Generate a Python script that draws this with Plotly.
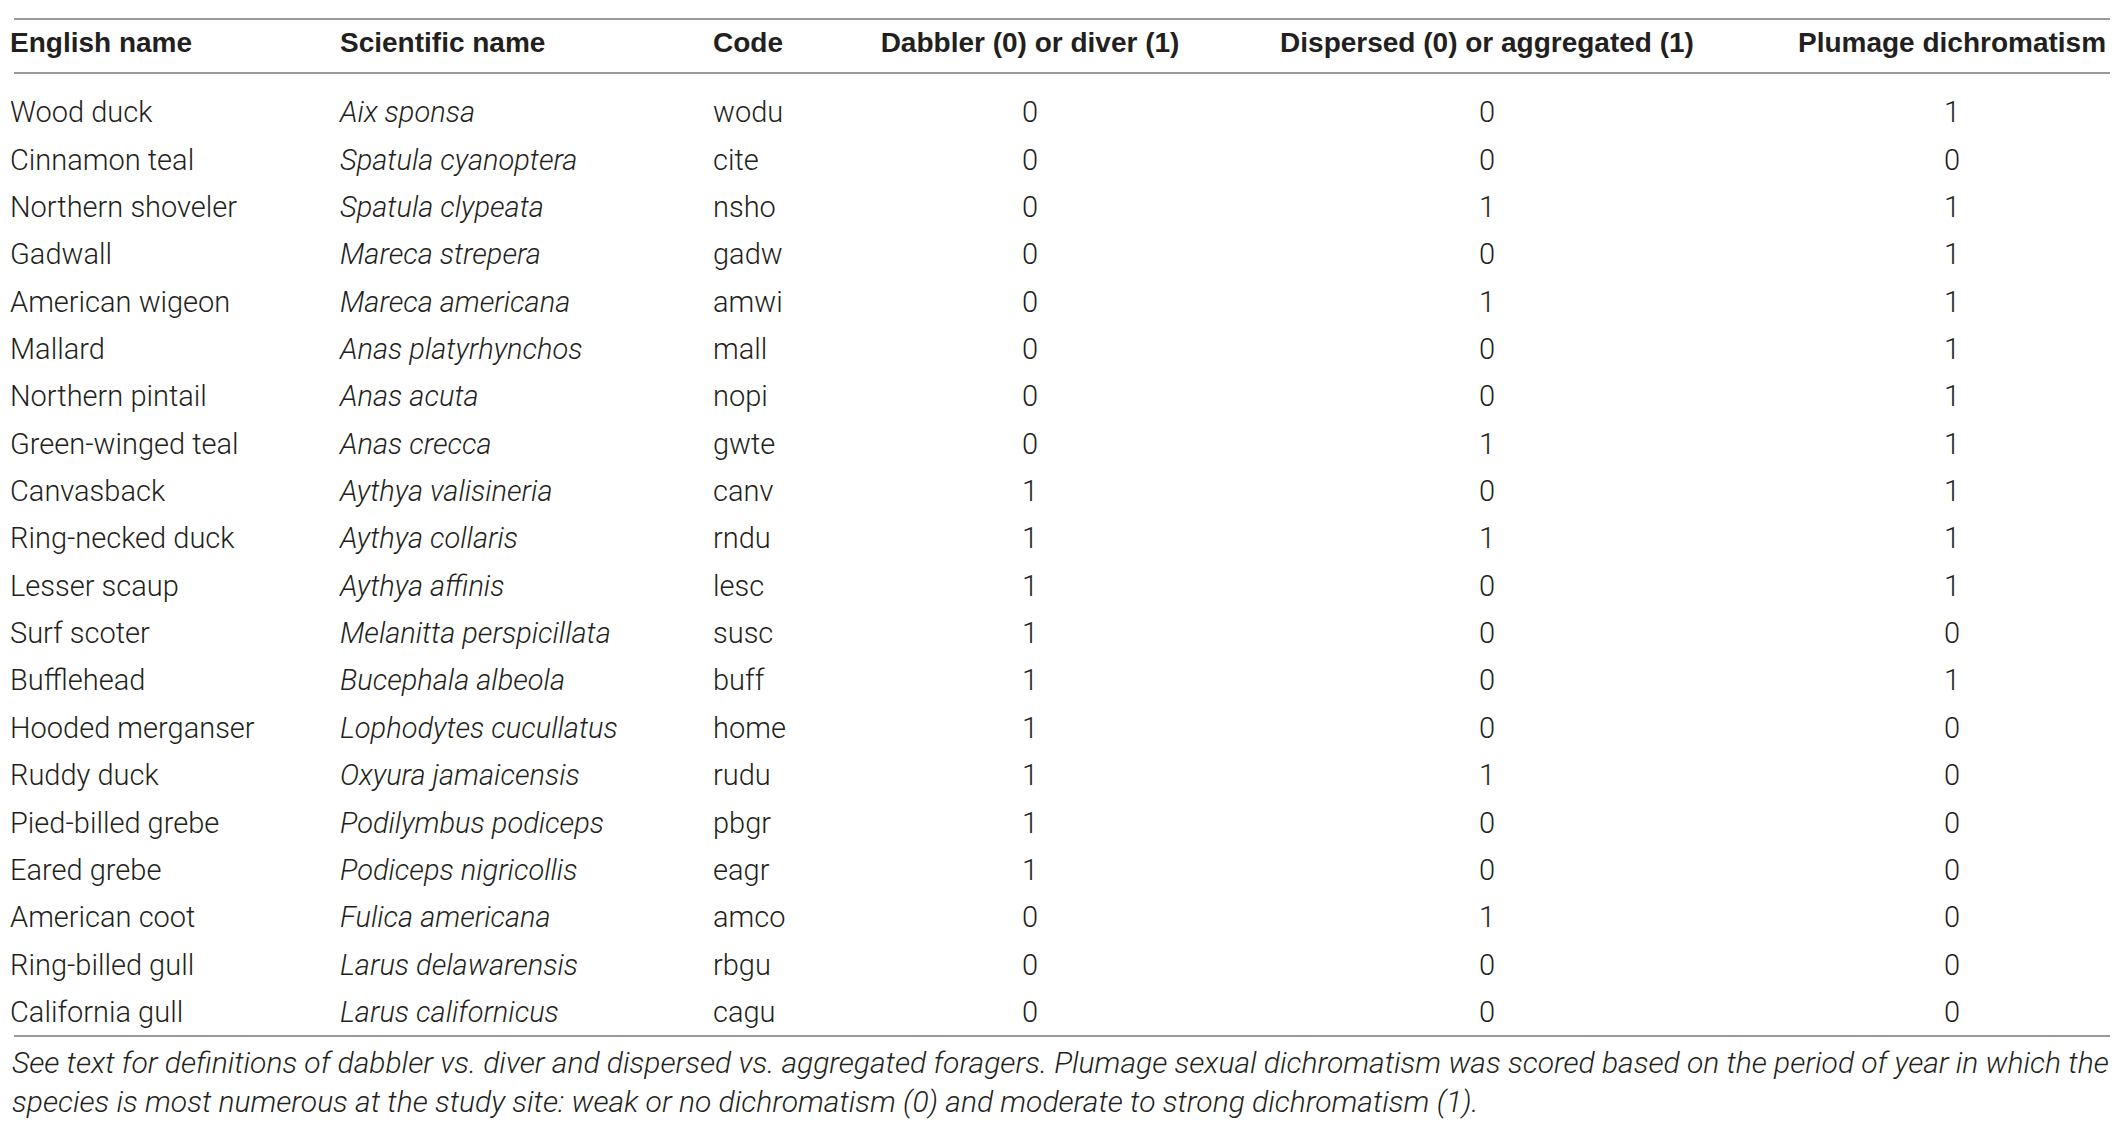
import plotly.graph_objects as go

english = ["Wood duck", "Cinnamon teal", "Northern shoveler", "Gadwall", "American wigeon",
           "Mallard", "Northern pintail", "Green-winged teal", "Canvasback", "Ring-necked duck",
           "Lesser scaup", "Surf scoter", "Bufflehead", "Hooded merganser", "Ruddy duck",
           "Pied-billed grebe", "Eared grebe", "American coot", "Ring-billed gull", "California gull"]
scientific = ["Aix sponsa", "Spatula cyanoptera", "Spatula clypeata", "Mareca strepera",
              "Mareca americana", "Anas platyrhynchos", "Anas acuta", "Anas crecca",
              "Aythya valisineria", "Aythya collaris", "Aythya affinis", "Melanitta perspicillata",
              "Bucephala albeola", "Lophodytes cucullatus", "Oxyura jamaicensis",
              "Podilymbus podiceps", "Podiceps nigricollis", "Fulica americana",
              "Larus delawarensis", "Larus californicus"]
codes = ["wodu", "cite", "nsho", "gadw", "amwi", "mall", "nopi", "gwte", "canv", "rndu",
         "lesc", "susc", "buff", "home", "rudu", "pbgr", "eagr", "amco", "rbgu", "cagu"]
dabbler_diver = [0, 0, 0, 0, 0, 0, 0, 0, 1, 1, 1, 1, 1, 1, 1, 1, 1, 0, 0, 0]
dispersed_aggregated = [0, 0, 1, 0, 1, 0, 0, 1, 0, 1, 0, 0, 0, 0, 1, 0, 0, 1, 0, 0]
plumage = [1, 0, 1, 1, 1, 1, 1, 1, 1, 1, 1, 0, 1, 0, 0, 0, 0, 0, 0, 0]

headers = ["English name", "Scientific name", "Code", "Dabbler (0) or diver (1)",
           "Dispersed (0) or aggregated (1)", "Plumage dichromatism"]
footnote = ("See text for definitions of dabbler vs. diver and dispersed vs. aggregated foragers. "
            "Plumage sexual dichromatism was scored based on the period of year in which the<br>"
            "species is most numerous at the study site: weak or no dichromatism (0) and moderate "
            "to strong dichromatism (1).")

# layout of the columns (x in page pixels), left aligned for text, centred for scores
col_x = [2, 332, 705, 1022, 1479, 1944]
col_pos = ["middle right", "middle right", "middle right", "middle center", "middle center", "middle center"]

W, H = 2118, 1133
row0, step = 107, 47.35  # pixel centre of first row and row spacing
def py(p):
    return (p - row0) / step

txt = "#231f20"
body = dict(family="Roboto", size=29, color=txt, weight=300)
rows = list(range(len(english)))
columns = [english, scientific, codes,
           [str(v) for v in dabbler_diver],
           [str(v) for v in dispersed_aggregated],
           [str(v) for v in plumage]]

fig = go.Figure()
for i, col in enumerate(columns):
    f = dict(body)
    if i == 1:
        f["style"] = "italic"
    fig.add_trace(go.Scatter(x=[col_x[i]] * len(col), y=rows, text=col, mode="text",
                             textposition=col_pos[i], textfont=f, hoverinfo="skip"))
    fig.add_trace(go.Scatter(x=[col_x[i]], y=[py(37)], text=[headers[i]], mode="text",
                             textposition=col_pos[i], hoverinfo="skip",
                             textfont=dict(family="Liberation Sans", size=28, color=txt, weight=700)))

# horizontal rules: top, under header, bottom
for p in [11, 65, 1028]:
    fig.add_shape(type="line", xref="x", yref="y", x0=6, x1=2112, y0=py(p), y1=py(p),
                  line=dict(color="#9a9a9a", width=2))

fig.add_annotation(x=2, y=py(1074), xref="x", yref="y", text=footnote, showarrow=False,
                   xanchor="left", yanchor="middle", align="left",
                   font=dict(family="Roboto", size=30, color=txt, weight=300, style="italic"))

fig.update_layout(width=W, height=H, margin=dict(l=0, r=0, t=0, b=0), showlegend=False,
                  plot_bgcolor="white", paper_bgcolor="white")
fig.update_xaxes(range=[0, W], visible=False, fixedrange=True)
fig.update_yaxes(range=[py(H), py(0)], visible=False, fixedrange=True)
fig.write_html("out.html")
